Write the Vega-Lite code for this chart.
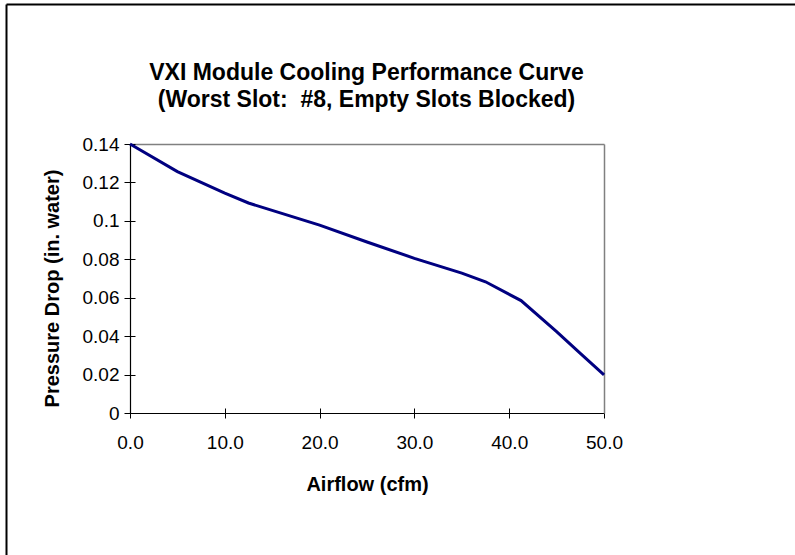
{
  "$schema": "https://vega.github.io/schema/vega-lite/v6.json",
  "autosize": {"type": "none"},
  "padding": {"left": 6, "top": 4, "right": 0, "bottom": 0},
  "width": 789,
  "height": 551,
  "background": "white",
  "config": {
    "view": {"stroke": null},
    "font": "Liberation Sans",
    "axis": {"grid": false, "labelFont": "Liberation Sans", "titleFont": "Liberation Sans", "labelColor": "black", "titleColor": "black", "tickColor": "black", "domainColor": "black"}
  },
  "title": {
    "text": ["VXI Module Cooling Performance Curve", "(Worst Slot: \u00a0#8, Empty Slots Blocked)"],
    "font": "Liberation Sans",
    "fontSize": 23,
    "fontWeight": "bold",
    "color": "black",
    "anchor": "middle",
    "frame": "group",
    "dx": -34,
    "baseline": "alphabetic",
    "lineHeight": 27,
    "offset": -129
  },
  "data": {
    "values": [
      {"airflow": 0, "pressure": 0.14},
      {"airflow": 5, "pressure": 0.1256},
      {"airflow": 10, "pressure": 0.1144},
      {"airflow": 12.5, "pressure": 0.1093},
      {"airflow": 20, "pressure": 0.0978},
      {"airflow": 25, "pressure": 0.089},
      {"airflow": 30, "pressure": 0.0805},
      {"airflow": 35, "pressure": 0.0728},
      {"airflow": 37.5, "pressure": 0.0683},
      {"airflow": 41.25, "pressure": 0.0585},
      {"airflow": 45, "pressure": 0.0423},
      {"airflow": 47.5, "pressure": 0.031},
      {"airflow": 50, "pressure": 0.0198}
    ]
  },
  "layer": [
    {
      "mark": {"type": "point", "opacity": 0},
      "encoding": {
        "x": {"field": "airflow", "type": "quantitative",
          "scale": {"domain": [0, 50], "range": [0, 789], "nice": false, "zero": false},
          "axis": {"orient": "top", "domainWidth": 2, "ticks": false, "labels": false, "title": null}},
        "y": {"field": "pressure", "type": "quantitative",
          "scale": {"domain": [0, 0.14], "range": [551, 0], "nice": false, "zero": false},
          "axis": {"orient": "left", "domainWidth": 2, "ticks": false, "labels": false, "title": null}}
      }
    },
    {
      "mark": {"type": "point", "opacity": 0},
      "encoding": {
        "x": {"field": "airflow", "type": "quantitative",
          "scale": {"domain": [0, 50], "range": [124, 598], "nice": false, "zero": false},
          "axis": {"orient": "top", "offset": -140, "domainColor": "#808080", "domainWidth": 1.5, "ticks": false, "labels": false, "title": null}},
        "y": {"field": "pressure", "type": "quantitative",
          "scale": {"domain": [0, 0.14], "range": [409, 140], "nice": false, "zero": false},
          "axis": {"orient": "right", "offset": -191, "domainColor": "#808080", "domainWidth": 1.5, "ticks": false, "labels": false, "title": null}}
      }
    },
    {
      "mark": {"type": "point", "opacity": 0},
      "encoding": {
        "x": {"field": "airflow", "type": "quantitative",
          "scale": {"domain": [0, 50], "range": [124, 598], "nice": false, "zero": false},
          "axis": {"orient": "bottom", "offset": -147, "domain": false, "tickSize": 5, "values": [0, 10, 20, 30, 40, 50], "labels": false, "title": null}},
        "y": {"field": "pressure", "type": "quantitative",
          "scale": {"domain": [0, 0.14], "range": [409, 140], "nice": false, "zero": false},
          "axis": {"orient": "left", "offset": -129, "domain": false, "tickSize": 5, "values": [0, 0.02, 0.04, 0.06, 0.08, 0.1, 0.12, 0.14], "labels": false, "title": null}}
      }
    },
    {
      "mark": {"type": "line", "color": "#000080", "strokeWidth": 3},
      "encoding": {
        "x": {"field": "airflow", "type": "quantitative",
          "scale": {"domain": [0, 50], "range": [124, 598], "nice": false, "zero": false},
          "axis": {"orient": "bottom", "offset": -142, "domainWidth": 1.2, "tickSize": 5, "values": [0, 10, 20, 30, 40, 50], "format": ".1f",
            "labelFontSize": 19, "labelPadding": 15, "labelFlush": false, "labelOverlap": false,
            "title": "Airflow (cfm)", "titleFontSize": 20, "titleFontWeight": "bold", "titleBaseline": "alphabetic", "titleY": 77}},
        "y": {"field": "pressure", "type": "quantitative",
          "scale": {"domain": [0, 0.14], "range": [409, 140], "nice": false, "zero": false},
          "axis": {"orient": "left", "offset": -124, "domainWidth": 1.2, "tickSize": 6, "values": [0, 0.02, 0.04, 0.06, 0.08, 0.1, 0.12, 0.14], "format": "~g",
            "labelFontSize": 19, "labelPadding": 5, "labelOverlap": false,
            "title": "Pressure Drop (in. water)", "titleFontSize": 20, "titleFontWeight": "bold", "titleBaseline": "alphabetic", "titleX": -72, "titleY": 284}}
      }
    }
  ],
  "resolve": {
    "scale": {"x": "independent", "y": "independent"},
    "axis": {"x": "independent", "y": "independent"}
  }
}
